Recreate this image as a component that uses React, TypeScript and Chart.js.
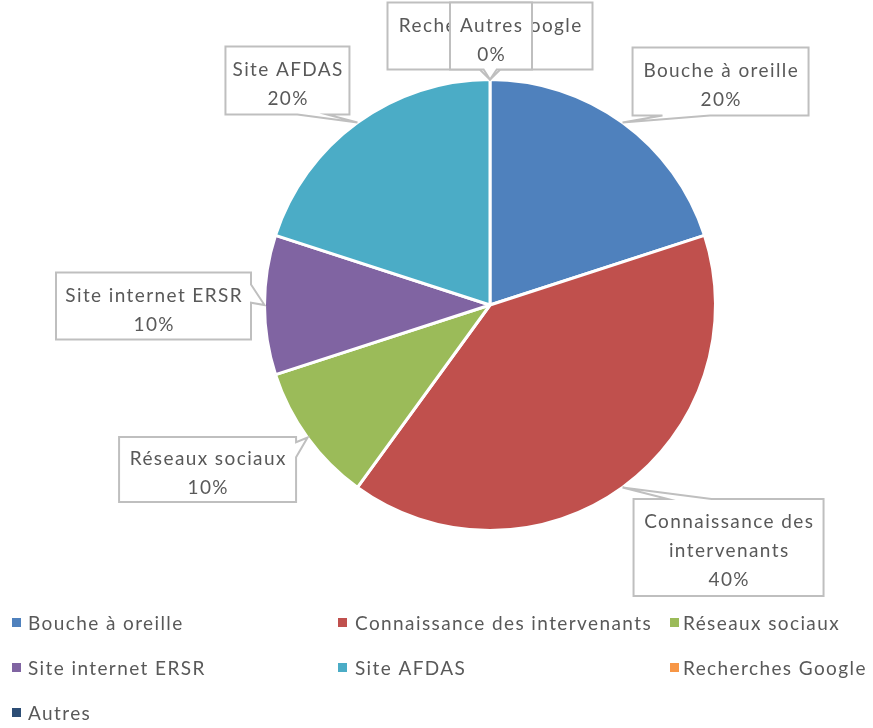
import React, { useEffect, useRef } from "react";
import { Chart, registerables } from "chart.js";

Chart.register(...registerables);

const categories = [
  "Bouche à oreille",
  "Connaissance des intervenants",
  "Réseaux sociaux",
  "Site internet ERSR",
  "Site AFDAS",
  "Recherches Google",
  "Autres",
];
const values = [20, 40, 10, 10, 20, 0, 0];
const colors = ["#4F81BD", "#C0504D", "#9BBB59", "#8064A2", "#4BACC6", "#F79646", "#2C4D75"];

// callout placement relative to the slice's outer mid-point (layout only)
const calloutLayout = [
  { dx: 98, dy: -41, w: 176, h: 68, tail: [0.17, 0.44] },
  { dx: 106, dy: 60, w: 190, h: 97, tail: [0.18, 0.41] },
  { dx: -100, dy: 32, w: 177, h: 65, tail: [0.08, 0.31] },
  { dx: -111, dy: 1, w: 195, h: 67, tail: [0.18, 0.45] },
  { dx: -70, dy: -42, w: 124, h: 68, tail: [0.58, 0.82] },
  { dx: 0, dy: -43.5, w: 205, h: 67, tail: [0.45, 0.55] },
  { dx: 1, dy: -43.5, w: 82, h: 67, tail: [0.41, 0.57] },
];

const FONT = "19px Lato, 'Open Sans', sans-serif";
const TEXT_COLOR = "#595959";
const SPACING = "1.4px";

function wrap(ctx: CanvasRenderingContext2D, text: string, maxW: number): string[] {
  const words = text.split(" ");
  const lines: string[] = [];
  let cur = "";
  for (const w of words) {
    const test = cur ? cur + " " + w : w;
    if (cur && ctx.measureText(test).width > maxW) {
      lines.push(cur);
      cur = w;
    } else cur = test;
  }
  if (cur) lines.push(cur);
  return lines;
}

const calloutPlugin = {
  id: "callouts",
  afterDraw(chart: any) {
    const ctx: CanvasRenderingContext2D = chart.ctx;
    const meta = chart.getDatasetMeta(0);
    const data = chart.data.datasets[0].data as number[];
    const total = data.reduce((a, b) => a + b, 0);
    ctx.save();
    ctx.font = FONT;
    (ctx as any).letterSpacing = SPACING;
    meta.data.forEach((arc: any, i: number) => {
      const p = arc.getProps(["x", "y", "startAngle", "endAngle", "outerRadius"], true);
      const mid = (p.startAngle + p.endAngle) / 2;
      const tx = p.x + Math.cos(mid) * p.outerRadius;
      const ty = p.y + Math.sin(mid) * p.outerRadius;
      const L = calloutLayout[i];
      const cx = tx + L.dx;
      const cy = ty + L.dy;
      const x0 = cx - L.w / 2, x1 = cx + L.w / 2, y0 = cy - L.h / 2, y1 = cy + L.h / 2;
      let edge: string;
      if (ty < y0) edge = "top";
      else if (ty > y1) edge = "bottom";
      else if (tx < x0) edge = "left";
      else edge = "right";
      const [f0, f1] = L.tail;
      const w = L.w, h = L.h;
      ctx.beginPath();
      ctx.moveTo(x0, y0);
      if (edge === "top") {
        ctx.lineTo(x0 + f0 * w, y0);
        ctx.lineTo(tx, ty);
        ctx.lineTo(x0 + f1 * w, y0);
      }
      ctx.lineTo(x1, y0);
      if (edge === "right") {
        ctx.lineTo(x1, y0 + f0 * h);
        ctx.lineTo(tx, ty);
        ctx.lineTo(x1, y0 + f1 * h);
      }
      ctx.lineTo(x1, y1);
      if (edge === "bottom") {
        ctx.lineTo(x0 + f1 * w, y1);
        ctx.lineTo(tx, ty);
        ctx.lineTo(x0 + f0 * w, y1);
      }
      ctx.lineTo(x0, y1);
      if (edge === "left") {
        ctx.lineTo(x0, y0 + f1 * h);
        ctx.lineTo(tx, ty);
        ctx.lineTo(x0, y0 + f0 * h);
      }
      ctx.closePath();
      ctx.fillStyle = "#FFFFFF";
      ctx.fill();
      ctx.strokeStyle = "#BFBFBF";
      ctx.lineWidth = 2;
      ctx.lineJoin = "miter";
      ctx.stroke();

      const pct = Math.round((data[i] / total) * 100) + "%";
      const lines = [...wrap(ctx, chart.data.labels[i], L.w - 2), pct];
      ctx.fillStyle = TEXT_COLOR;
      ctx.textAlign = "center";
      ctx.textBaseline = "alphabetic";
      const lh = 29;
      const start = cy - ((lines.length - 1) * lh) / 2 + 10;
      lines.forEach((ln, k) => ctx.fillText(ln, cx + 0.7, start + k * lh));
    });

    // legend
    const markerX = [12, 338, 670];
    const textX = [28, 355, 683];
    const rowY = [622.5, 667.5, 712.5];
    ctx.textAlign = "left";
    chart.data.labels.forEach((lab: string, i: number) => {
      const col = i % 3, row = Math.floor(i / 3);
      const yc = rowY[row];
      ctx.fillStyle = chart.data.datasets[0].backgroundColor[i];
      ctx.fillRect(markerX[col], yc - 4.5, 9, 9);
      ctx.fillStyle = TEXT_COLOR;
      ctx.fillText(lab, textX[col], yc + 7);
    });
    ctx.restore();
  },
};

export default function App() {
  const ref = useRef<HTMLCanvasElement | null>(null);
  useEffect(() => {
    if (!ref.current) return;
    const chart = new Chart(ref.current, {
      type: "pie",
      data: {
        labels: categories,
        datasets: [
          {
            data: values,
            backgroundColor: colors,
            borderColor: "#FFFFFF",
            borderWidth: 3,
          },
        ],
      },
      options: {
        responsive: false,
        animation: false,
        layout: { padding: { left: 263, right: 156, top: 78, bottom: 196 } },
        plugins: {
          legend: { display: false },
          tooltip: { enabled: false },
        },
      },
      plugins: [calloutPlugin],
    });
    return () => chart.destroy();
  }, []);
  return (
    <div style={{ position: "absolute", left: 0, top: 0, width: 873, height: 728, background: "#fff" }}>
      <canvas ref={ref} width={873} height={728} />
    </div>
  );
}
